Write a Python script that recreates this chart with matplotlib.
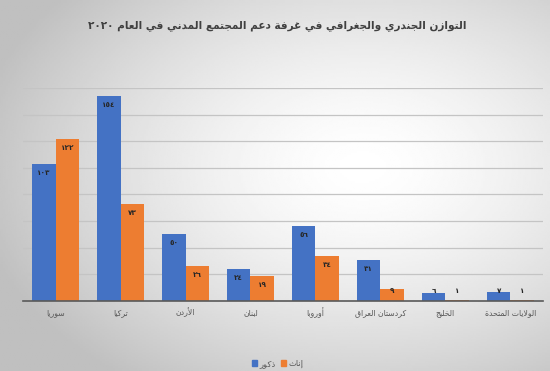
import re
import numpy as np
import matplotlib
matplotlib.use('Agg')
import matplotlib.pyplot as plt
from matplotlib.patches import Patch

# data
categories = ['سوريا', 'تركيا', 'الأردن', 'لبنان', 'أوروبا', 'كردستان العراق', 'الخليج', 'الولايات المتحدة']
males = [103, 154, 50, 24, 56, 31, 6, 7]
females = [122, 73, 26, 19, 34, 9, 1, 1]
title = 'التوازن الجندري والجغرافي في غرفة دعم المجتمع المدني في العام ٢٠٢٠'
series_names = ['ذكور', 'إناث']

# --- minimal arabic shaping (matplotlib has no text shaping) ---
_tab = [('\u0621', 0xFE80, 1), ('\u0622', 0xFE81, 2), ('\u0623', 0xFE83, 2), ('\u0624', 0xFE85, 2),
        ('\u0625', 0xFE87, 2), ('\u0626', 0xFE89, 4), ('\u0627', 0xFE8D, 2), ('\u0628', 0xFE8F, 4),
        ('\u0629', 0xFE93, 2), ('\u062A', 0xFE95, 4), ('\u062B', 0xFE99, 4), ('\u062C', 0xFE9D, 4),
        ('\u062D', 0xFEA1, 4), ('\u062E', 0xFEA5, 4), ('\u062F', 0xFEA9, 2), ('\u0630', 0xFEAB, 2),
        ('\u0631', 0xFEAD, 2), ('\u0632', 0xFEAF, 2), ('\u0633', 0xFEB1, 4), ('\u0634', 0xFEB5, 4),
        ('\u0635', 0xFEB9, 4), ('\u0636', 0xFEBD, 4), ('\u0637', 0xFEC1, 4), ('\u0638', 0xFEC5, 4),
        ('\u0639', 0xFEC9, 4), ('\u063A', 0xFECD, 4), ('\u0641', 0xFED1, 4), ('\u0642', 0xFED5, 4),
        ('\u0643', 0xFED9, 4), ('\u0644', 0xFEDD, 4), ('\u0645', 0xFEE1, 4), ('\u0646', 0xFEE5, 4),
        ('\u0647', 0xFEE9, 4), ('\u0648', 0xFEED, 2), ('\u0649', 0xFEEF, 2), ('\u064A', 0xFEF1, 4)]
FORMS = {c: (b, n) for c, b, n in _tab}
LAM_ALEF = {'\u0622': 0xFEF5, '\u0623': 0xFEF7, '\u0625': 0xFEF9, '\u0627': 0xFEFB}


def shape(s):
    toks = []
    i = 0
    while i < len(s):
        if s[i] == '\u0644' and i + 1 < len(s) and s[i + 1] in LAM_ALEF:
            toks.append((LAM_ALEF[s[i + 1]], 2))
            i += 2
        else:
            toks.append(FORMS.get(s[i], (s[i], 0)))
            i += 1
    out = []
    for k, (b, n) in enumerate(toks):
        if n == 0:
            out.append(b)
            continue
        jp = k > 0 and toks[k - 1][1] == 4
        jn = n == 4 and k + 1 < len(toks) and toks[k + 1][1] >= 2
        if n == 4:
            off = [[0, 2], [1, 3]][jp][jn]
        elif n == 2:
            off = 1 if jp else 0
        else:
            off = 0
        out.append(chr(b + off))
    return ''.join(out)


def ar(s):
    runs = re.findall(r'[\u0660-\u06690-9]+|[^\u0660-\u06690-9]+', shape(s))
    return ''.join(r if re.match(r'[\u0660-\u06690-9]', r) else r[::-1] for r in reversed(runs))


def ar_num(v):
    return ''.join(chr(0x0660 + int(d)) for d in str(v))


plt.rcParams['font.family'] = ['DejaVu Sans']

fig = plt.figure(figsize=(5.5, 3.71), dpi=100)

# gray-to-white background
bg = fig.add_axes([0, 0, 1, 1], zorder=-5)
yy, xx = np.mgrid[0:1:200j, 0:1:300j]
r = np.sqrt(((xx - 0.66) / 0.72) ** 2 + ((yy - 0.45) / 0.72) ** 2)
shade = 1.0 - 0.25 * np.clip(r, 0, 1) ** 1.5
bg.imshow(shade, cmap='gray', vmin=0, vmax=1, aspect='auto', extent=[0, 1, 0, 1])
bg.axis('off')

ax = fig.add_axes([0.042, 0.189, 0.945, 0.574])
ax.set_facecolor('none')

x = np.arange(len(categories))
w = 0.36
ax.bar(x - w / 2, males, w, color='#4472C4', zorder=3)
ax.bar(x + w / 2, females, w, color='#ED7D31', zorder=3)

for vals, off in ((males, -w / 2), (females, w / 2)):
    for xi, v in zip(x, vals):
        ax.text(xi + off, max(v - 6.8, 7.5), ar_num(v), ha='center', va='center',
                fontsize=5.2, fontweight='bold', color='#262626', zorder=4)

ax.set_xlim(-0.5, len(categories) - 0.5)
ax.set_ylim(0, 160)
ax.set_yticks(np.arange(0, 161, 20))
ax.yaxis.grid(True, color='#c4c4c4', linewidth=0.9, zorder=0)
ax.tick_params(axis='y', left=False, labelleft=False)
ax.tick_params(axis='x', length=0, pad=5, labelsize=5.6, labelcolor='#595959')
ax.set_xticks(x)
ax.set_xticklabels([ar(c) for c in categories])
for s in ['top', 'right', 'left']:
    ax.spines[s].set_visible(False)
ax.spines['bottom'].set_color('#595959')
ax.spines['bottom'].set_linewidth(1.2)
ax.spines['bottom'].set_zorder(5)

fig.text(0.504, 0.93, ar(title), ha='center', va='center', fontsize=7.6,
         fontweight='bold', color='#404040')

handles = [Patch(color='#4472C4'), Patch(color='#ED7D31')]
fig.legend(handles, [ar(n) for n in series_names], loc='center', bbox_to_anchor=(0.505, 0.02),
           ncol=2, frameon=False, fontsize=6, handlelength=0.6, handleheight=0.6,
           handletextpad=0.3, columnspacing=0.6, labelcolor='#595959')

fig.savefig('out.png', dpi=100)
